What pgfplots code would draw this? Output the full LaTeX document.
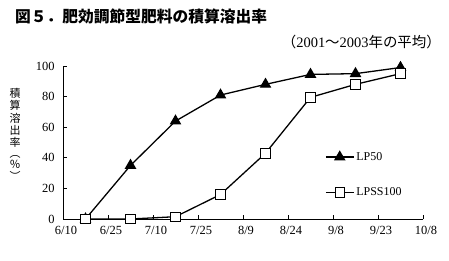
\documentclass[border=0pt]{standalone}
\usepackage{fontspec}
\setmainfont{Liberation Serif}
\newfontfamily\cjk{Noto Sans CJK JP}
\usepackage{pgfplots}
\pgfplotsset{compat=1.18}
\begin{document}
\begin{tikzpicture}[x=1bp,y=1bp]
\path[use as bounding box] (0,0) rectangle (449,260);
\node[anchor=west, inner sep=0] at (15,244) {\cjk\bfseries\fontsize{15.8}{15.8}\selectfont 図５．肥効調節型肥料の積算溶出率};
\node[anchor=east, inner sep=0] at (441,218) {\fontsize{14.5}{14.5}\selectfont{\cjk （}2001{\cjk 〜}2003{\cjk 年の平均）}};
\node[inner sep=0] at (15,124) {\cjk\fontsize{11}{11}\selectfont\renewcommand{\arraystretch}{0.95}\begin{tabular}{@{}c@{}}積\\算\\溶\\出\\率\\︵\\％\\︶\end{tabular}};
\begin{axis}[
  at={(63bp,41bp)}, anchor=south west,
  scale only axis, width=360bp, height=153bp,
  xmin=0, xmax=8, ymin=0, ymax=100,
  axis lines*=left,
  axis line style={line width=0.8pt},
  xtick={0,...,8},
  xticklabels={6/10,6/25,7/10,7/25,8/9,8/24,9/8,9/23,10/8},
  ytick={0,20,40,60,80,100},
  tick align=inside, major tick length=4bp,
  tick style={black, line width=0.7pt},
  enlargelimits=false, clip=false,
  ticklabel style={font=\fontsize{12.5}{14}\selectfont},
  /pgf/number format/assume math mode=true,
  xticklabel style={yshift=-4bp, xshift=3bp},
  yticklabel style={xshift=-5bp},
  legend style={draw=none, fill=none, at={(axis cs:5.82,45)}, anchor=north west,
    font=\fontsize{12}{13}\selectfont, row sep=22bp, inner sep=0pt},
  legend cell align=left,
  legend image code/.code={\draw[mark repeat=2,mark phase=2,#1] plot coordinates {(0bp,0bp) (14bp,0bp) (28bp,0bp)};},
]
\addplot[black, line width=1.3pt, mark=triangle*, mark size=5.5pt, mark options={solid, fill=black}]
coordinates {(0.5,0) (1.5,35) (2.5,64) (3.5,81) (4.5,88) (5.5,94.5) (6.5,95) (7.5,99)};
\addlegendentry{LP50}
\addplot[black, line width=1.3pt, mark=square*, mark size=4.8pt, mark options={solid, fill=white, line width=0.8pt}]
coordinates {(0.5,0) (1.5,0) (2.5,1.5) (3.5,16) (4.5,43) (5.5,79.5) (6.5,88) (7.5,95)};
\addlegendentry{LPSS100}
\end{axis}
\end{tikzpicture}
\end{document}
